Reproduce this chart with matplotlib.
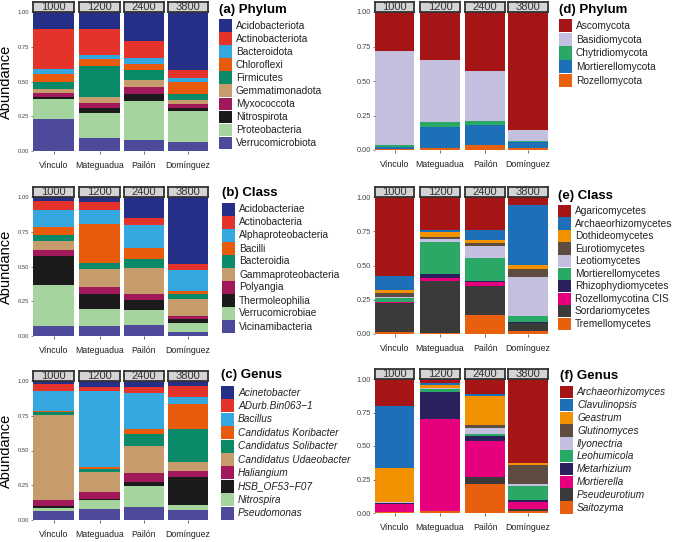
import matplotlib
matplotlib.use("Agg")
import matplotlib.pyplot as plt
from matplotlib.patches import Rectangle
import numpy as np

plt.rcParams['font.family'] = ['Liberation Sans', 'DejaVu Sans']

W, H = 677, 542

# sites / facets
sites = ["Vínculo", "Mateguadua", "Pailón", "Domínguez"]
altitudes = ["1000", "1200", "2400", "3800"]

# (a) bacterial phylum, legend order (top of stack first), values per site
phylum_bac = ["Acidobacteriota", "Actinobacteriota", "Bacteroidota", "Chloroflexi",
              "Firmicutes", "Gemmatimonadota", "Myxococcota", "Nitrospirota",
              "Proteobacteria", "Verrucomicrobiota"]
phylum_bac_vals = [
    [0.120, 0.120, 0.210, 0.415],
    [0.293, 0.190, 0.121, 0.057],
    [0.031, 0.030, 0.043, 0.032],
    [0.056, 0.050, 0.043, 0.086],
    [0.054, 0.224, 0.075, 0.046],
    [0.026, 0.038, 0.050, 0.026],
    [0.030, 0.038, 0.048, 0.028],
    [0.016, 0.037, 0.050, 0.022],
    [0.144, 0.179, 0.278, 0.226],
    [0.230, 0.094, 0.082, 0.062],
]

# (b) bacterial class
class_bac = ["Acidobacteriae", "Actinobacteria", "Alphaproteobacteria", "Bacilli",
             "Bacteroidia", "Gammaproteobacteria", "Polyangia", "Thermoleophilia",
             "Verrucomicrobiae", "Vicinamibacteria"]
class_bac_vals = [
    [0.026, 0.034, 0.151, 0.484],
    [0.070, 0.060, 0.048, 0.044],
    [0.117, 0.100, 0.168, 0.151],
    [0.063, 0.278, 0.079, 0.019],
    [0.038, 0.046, 0.065, 0.036],
    [0.070, 0.129, 0.189, 0.122],
    [0.040, 0.051, 0.041, 0.024],
    [0.207, 0.108, 0.074, 0.029],
    [0.297, 0.120, 0.103, 0.062],
    [0.072, 0.074, 0.082, 0.029],
]

# (c) bacterial genus
genus_bac = ["Acinetobacter", "ADurb.Bin063\u22121", "Bacillus", "Candidatus Koribacter",
             "Candidatus Solibacter", "Candidatus Udaeobacter", "Haliangium",
             "HSB_OF53\u2212F07", "Nitrospira", "Pseudomonas"]
genus_bac_vals = [
    [0.024, 0.041, 0.046, 0.036],
    [0.048, 0.029, 0.043, 0.079],
    [0.141, 0.549, 0.254, 0.050],
    [0.010, 0.014, 0.038, 0.180],
    [0.022, 0.022, 0.087, 0.238],
    [0.614, 0.144, 0.192, 0.067],
    [0.043, 0.048, 0.064, 0.043],
    [0.009, 0.012, 0.031, 0.199],
    [0.024, 0.062, 0.149, 0.038],
    [0.065, 0.079, 0.096, 0.070],
]

# (d) fungal phylum
phylum_fun = ["Ascomycota", "Basidiomycota", "Chytridiomycota", "Mortierellomycota",
              "Rozellomycota"]
phylum_fun_vals = [
    [0.282, 0.350, 0.429, 0.858],
    [0.682, 0.445, 0.364, 0.077],
    [0.012, 0.036, 0.027, 0.007],
    [0.016, 0.152, 0.144, 0.041],
    [0.008, 0.017, 0.036, 0.017],
]

# (e) fungal class
class_fun = ["Agaricomycetes", "Archaeorhizomycetes", "Dothideomycetes", "Eurotiomycetes",
             "Leotiomycetes", "Mortierellomycetes", "Rhizophydiomycetes",
             "Rozellomycotina CIS", "Sordariomycetes", "Tremellomycetes"]
class_fun_vals = [
    [0.578, 0.241, 0.239, 0.056],
    [0.102, 0.013, 0.078, 0.442],
    [0.020, 0.039, 0.020, 0.026],
    [0.032, 0.014, 0.022, 0.061],
    [0.002, 0.022, 0.087, 0.286],
    [0.029, 0.230, 0.169, 0.044],
    [0.003, 0.034, 0.009, 0.005],
    [0.010, 0.019, 0.022, 0.002],
    [0.209, 0.378, 0.217, 0.058],
    [0.015, 0.010, 0.137, 0.020],
]

# (f) fungal genus
genus_fun = ["Archaeorhizomyces", "Clavulinopsis", "Geastrum", "Glutinomyces",
             "Ilyonectria", "Leohumicola", "Metarhizium", "Mortierella",
             "Pseudeurotium", "Saitozyma"]
genus_fun_vals = [
    [0.200, 0.027, 0.114, 0.628],
    [0.465, 0.018, 0.013, 0.002],
    [0.255, 0.020, 0.220, 0.015],
    [0.001, 0.002, 0.018, 0.142],
    [0.004, 0.007, 0.049, 0.010],
    [0.001, 0.020, 0.015, 0.109],
    [0.007, 0.201, 0.030, 0.010],
    [0.059, 0.691, 0.275, 0.054],
    [0.003, 0.002, 0.050, 0.013],
    [0.005, 0.012, 0.216, 0.017],
]

bac_colors = ['#262F87', '#E4332B', '#35A8E0', '#E85A0C', '#0B8A6A',
              '#C69C6D', '#A2195B', '#1B1B1B', '#A6D49F', '#4D4A9C']
fun_colors = ['#A51515', '#1D70B7', '#F39200', '#5F4C40', '#C4BEDF',
              '#2AA865', '#2B1F5E', '#E6007E', '#3A3A3A', '#E8600D']
fun_phylum_colors = ['#A51515', '#C4BEDF', '#2AA865', '#1D70B7', '#E8600D']

left_facets = [(33, 74), (79, 120), (124, 164), (168, 208)]
right_facets = [(375, 414), (420, 460), (465, 505), (508, 548)]

fig = plt.figure(figsize=(W / 100, H / 100), dpi=100)


def box(x0, y0, x1, y1):
    return [x0 / W, 1 - y1 / H, (x1 - x0) / W, (y1 - y0) / H]


def draw_panel(taxa, vals, colors, title, facets, top, bottom, leg_x, leg_title_y,
               leg_top, leg_step, italic=False, ylabel=False, tick_fs=4.2):
    vals = np.array(vals)
    for i, (x0, x1) in enumerate(facets):
        ax = fig.add_axes(box(x0, top, x1, bottom))
        cum = 0.0
        for k in range(len(taxa) - 1, -1, -1):
            ax.bar(0, vals[k, i], bottom=cum, width=1.0, color=colors[k], linewidth=0)
            cum += vals[k, i]
        ax.set_xlim(-0.5, 0.5)
        ax.set_ylim(0, 1.0)
        for s in ax.spines.values():
            s.set_visible(False)
        ax.set_xticks([0])
        ax.set_xticklabels([sites[i]], fontsize=6.3, color='#222222')
        ax.tick_params(axis='x', length=2, width=0.6, color='#555555', pad=5)
        if i == 0:
            ax.set_yticks([0, 0.25, 0.5, 0.75, 1.0])
            ax.set_yticklabels(["0.00", "0.25", "0.50", "0.75", "1.00"],
                               fontsize=tick_fs, color='#444444')
            ax.tick_params(axis='y', length=1.5, width=0.5, color='#555555', pad=1.5)
            if ylabel:
                ax.set_ylabel("Abundance", fontsize=10.5, labelpad=3)
        else:
            ax.set_yticks([])
        # facet strip
        sax = fig.add_axes(box(x0, top - 10.5, x1, top))
        sax.set_facecolor('#D4D4D4')
        sax.set_xticks([])
        sax.set_yticks([])
        for s in sax.spines.values():
            s.set_color('#333333')
            s.set_linewidth(1.3)
        sax.text(0.5, 0.45, altitudes[i], ha='center', va='center', fontsize=8,
                 color='#333333', transform=sax.transAxes)

    # legend
    fig.text(leg_x / W, 1 - leg_title_y / H, title, fontsize=9.5, fontweight='bold',
             ha='left', va='center')
    for k, name in enumerate(taxa):
        ytop = leg_top + k * leg_step
        fig.patches.append(Rectangle((leg_x / W, 1 - (ytop + leg_step - 0.5) / H),
                                     13 / W, (leg_step - 0.5) / H,
                                     transform=fig.transFigure, color=colors[k],
                                     linewidth=0))
        fig.text((leg_x + 17) / W, 1 - (ytop + leg_step / 2) / H, name, fontsize=7.3,
                 ha='left', va='center', style='italic' if italic else 'normal',
                 color='#222222')


draw_panel(phylum_bac, phylum_bac_vals, bac_colors, "(a) Phylum", left_facets,
           12, 151, 219, 10, 19, 13.1, ylabel=True)
draw_panel(class_bac, class_bac_vals, bac_colors, "(b) Class", left_facets,
           197, 336, 222, 193, 203, 13.0, ylabel=True)
draw_panel(genus_bac, genus_bac_vals, bac_colors, "(c) Genus", left_facets,
           381, 520, 221, 375, 386, 13.4, italic=True, ylabel=True)

draw_panel(phylum_fun, phylum_fun_vals, fun_phylum_colors, "(d) Phylum", right_facets,
           12, 150, 559, 10, 19, 13.7, tick_fs=5.3)
draw_panel(class_fun, class_fun_vals, fun_colors, "(e) Class", right_facets,
           197, 334, 558, 196, 205, 12.5, tick_fs=5.3)
draw_panel(genus_fun, genus_fun_vals, fun_colors, "(f) Genus", right_facets,
           379, 513, 560, 376, 386, 12.8, italic=True, tick_fs=5.3)

fig.savefig("out.png", dpi=100)
